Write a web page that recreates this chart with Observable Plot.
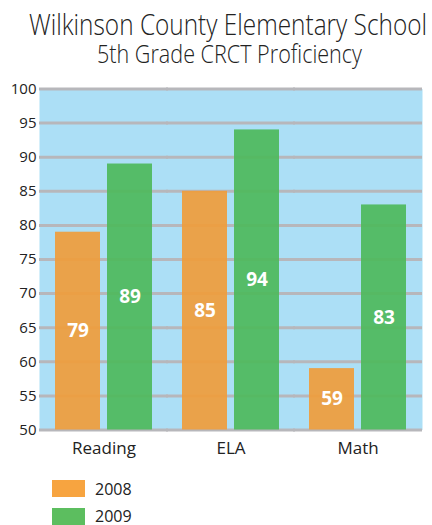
<!DOCTYPE html>
<html><head><meta charset="utf-8">
<script src="https://cdn.jsdelivr.net/npm/d3@7"></script>
<script src="https://cdn.jsdelivr.net/npm/@observablehq/plot@0.6"></script>
<style>
body{margin:0;background:#fff;font-family:"Open Sans",sans-serif;}
#wrap{width:432px;height:525px;position:relative;overflow:hidden;}
.title{position:absolute;white-space:nowrap;font-family:"Open Sans",sans-serif;font-weight:300;color:#222;line-height:0.85;transform-origin:0 0;}
#t1{font-size:26px;}
#t2{font-size:24px;}
#chart{position:absolute;left:0;top:78px;}
.leg{position:absolute;left:52px;display:flex;align-items:center;font-size:16px;line-height:1;color:#222;}
.sw{width:33px;height:17px;margin-right:10px;}
#chart svg g[aria-label="y-axis tick label"]{font-size:15px;}
#chart svg g[aria-label="fx-axis tick label"]{font-size:17px;}
</style></head><body>
<div id="wrap">
<div class="title" id="t1">Wilkinson County Elementary School</div>
<div class="title" id="t2">5th Grade CRCT Proficiency</div>
<div id="chart"></div>
<div class="leg" style="top:480px"><div class="sw" style="background:#f7a440"></div>2008</div>
<div class="leg" style="top:507.5px"><div class="sw" style="background:#5cbe5f"></div>2009</div>
</div>
<script>
const subjects = ["Reading", "ELA", "Math"];
const years = ["2008", "2009"];
const values2008 = [79, 85, 59];
const values2009 = [89, 94, 83];
const yTicks = [50, 55, 60, 65, 70, 75, 80, 85, 90, 95, 100];
const colors = ["#ef9d3c", "#4fb95d"];

const data = [];
subjects.forEach((s, i) => {
  data.push({subject: s, year: years[0], value: values2008[i]});
  data.push({subject: s, year: years[1], value: values2009[i]});
});

const chart = Plot.plot({
  width: 432,
  height: 382,
  marginTop: 10.5,
  marginBottom: 30.5,
  marginLeft: 39,
  marginRight: 10,
  style: {fontFamily: "Open Sans, sans-serif", fontSize: "15px", color: "#222", background: "transparent"},
  fx: {domain: subjects, padding: 0, label: null, axis: "bottom", tickSize: 0, tickPadding: 12},
  x: {domain: years, paddingInner: 0.135, paddingOuter: 0.28, axis: null},
  y: {domain: [50, 100], ticks: yTicks, tickSize: 0, tickPadding: 4, label: null},
  color: {domain: years, range: colors},
  marks: [
    Plot.frame({fill: "#acdff6", stroke: null, insetLeft: -1, insetRight: -1}),
    Plot.ruleY(yTicks, {stroke: "#b7b7bb", strokeWidth: 3, insetLeft: -1, insetRight: -1}),
    Plot.barY(data, {fx: "subject", x: "year", y1: 50, y2: "value", fill: "year", fillOpacity: 0.93, inset: 0}),
    Plot.text(data, {fx: "subject", x: "year", y: d => (50 + d.value) / 2, text: d => String(d.value), fill: "white", fontWeight: "bold", fontSize: 19})
  ]
});
document.getElementById("chart").appendChild(chart);

// fit titles to the reference's spans (scale about the top-left corner)
function fit(el, left, right, baseline, capPx) {
  const fs = parseFloat(getComputedStyle(el).fontSize);
  const lh = 0.85;
  const w = el.getBoundingClientRect().width;
  const sx = (right - left) / w;
  const sy = capPx / (0.714 * fs);
  el.style.left = left + "px";
  el.style.top = (baseline - (lh / 2 + 0.388) * fs * sy) + "px";
  el.style.transform = `scale(${sx}, ${sy})`;
}
fit(document.getElementById("t1"), 29, 427, 35, 21);
fit(document.getElementById("t2"), 97, 362, 63, 18);
</script>
</body></html>
